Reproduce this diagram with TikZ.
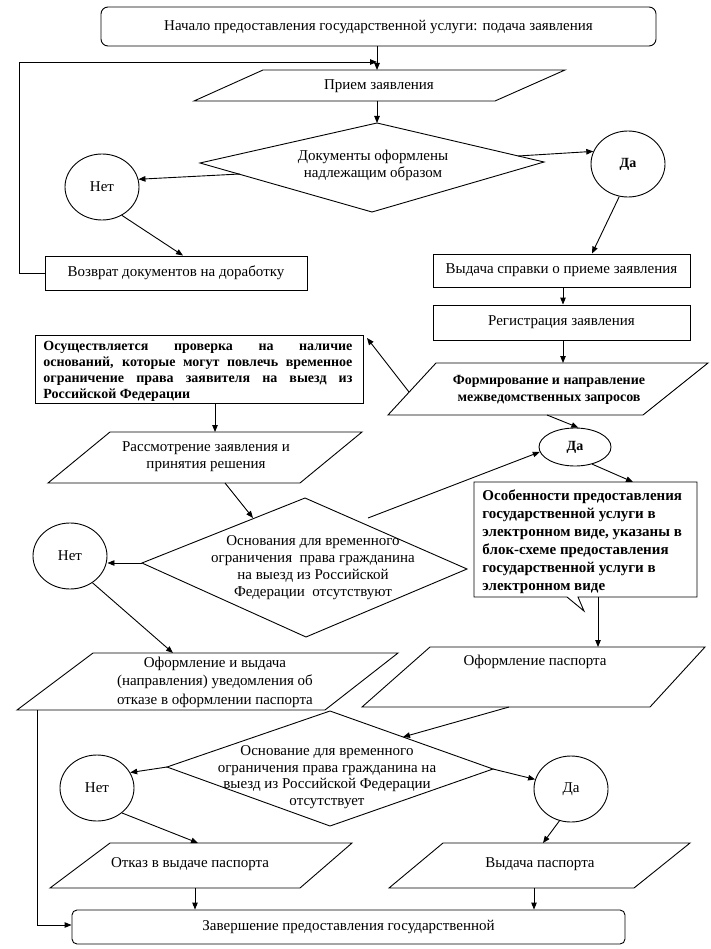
\documentclass[tikz,border=0pt]{standalone}
\usepackage{fontspec}
\setmainfont{Liberation Serif}
\usetikzlibrary{shapes.geometric,arrows.meta}
\begin{document}
\begin{tikzpicture}[x=1pt,y=-1pt,line width=0.9pt,
  arr/.style={-{Triangle[length=7pt,width=5.5pt]}},
  txt/.style={font=\fontsize{15}{17}\selectfont,align=center,inner sep=0pt},
  btxt/.style={font=\fontsize{14}{17}\selectfont\bfseries,align=center,inner sep=0pt},
  oval/.style={draw,ellipse,inner sep=0pt,minimum width=74pt,minimum height=66pt,font=\fontsize{15}{17}\selectfont},
  boxx/.style={draw,inner sep=0pt,font=\fontsize{15}{17}\selectfont,align=center}]
\useasboundingbox (0,0) rectangle (710,949);

% ---------- top ----------
\node[boxx,rounded corners=7pt,minimum width=555pt,minimum height=39pt] (start) at (378.5,26.5)
  {Начало предоставления государственной услуги: подача заявления};

\coordinate (pA) at (263,70); \coordinate (pB) at (565,70);
\coordinate (pC) at (495,101); \coordinate (pD) at (194,101);
\draw (pA) -- (pB) -- (pC) -- (pD) -- cycle;
\node[txt] (priem) at (379,86) {Прием заявления};
\coordinate (priemTop) at (377,70); \coordinate (priemBot) at (377,101);

\coordinate (fbTop) at (19,62); \coordinate (fbJoin) at (377,62);
\draw[arr] (start.south -| priemTop) -- (priemTop);

% diamond 1
\coordinate (d1t) at (377,123); \coordinate (d1r) at (544,162);
\coordinate (d1b) at (372,212); \coordinate (d1l) at (200,163);
\draw (d1t) -- (d1r) -- (d1b) -- (d1l) -- cycle;
\node[txt] (d1) at (373,165) {Документы оформлены\\надлежащим образом};
\draw[arr] (priemBot) -- (d1t);

\node[oval] (net1) at (102,187) {Нет};
\node[oval,font=\fontsize{14}{17}\selectfont\bfseries] (da1) at (628,164) {Да};
\coordinate (d1out1) at (240,174); \coordinate (d1out2) at (518,156);
\draw[arr] (d1out1) -- (net1.12);
\draw[arr] (d1out2) -- (da1.160);

\node[boxx,minimum width=262pt,minimum height=34pt] (vozv) at (176,273) {Возврат документов на доработку};
\draw[arr] (net1.-55) -- (vozv.north -| 183,0);
\draw[arr] (vozv.west) -| (fbTop) -- (fbJoin);

\node[boxx,minimum width=257pt,minimum height=33pt] (vyd) at (561.5,270.5) {Выдача справки о приеме заявления};
\draw[arr] (da1.-105) -- (vyd.north -| 592,0);
\node[boxx,minimum width=257pt,minimum height=35pt] (reg) at (561.5,322.5) {Регистрация заявления};
\draw[arr] (vyd.south -| 563,0) -- (reg.north -| 563,0);

% Формирование
\coordinate (fA) at (436,363); \coordinate (fB) at (708,363);
\coordinate (fC) at (643,415); \coordinate (fD) at (388,415);
\draw (fA) -- (fB) -- (fC) -- (fD) -- cycle;
\node[btxt] (form) at (549,390) {Формирование и направление\\межведомственных запросов};
\draw[arr] (reg.south -| 563,0) -- (563,363);

% Осуществляется
\node[draw,minimum width=328pt,minimum height=68pt,inner sep=0pt] (osu) at (199,369) {};
\node[anchor=north west,inner sep=0pt,font=\fontsize{14}{16}\selectfont\bfseries,align=left] (osut) at (43,341)
 {\makebox[309pt][s]{Осуществляется проверка на наличие}\\
  \makebox[309pt][s]{оснований, которые могут повлечь временное}\\
  \makebox[309pt][s]{ограничение права заявителя на выезд из}\\
  Российской Федерации};
\coordinate (fOut) at (409,392); \coordinate (osuIn) at (367,338);
\draw[arr] (fOut) -- (osuIn);

% Рассмотрение
\coordinate (rA) at (110,432); \coordinate (rB) at (362,432);
\coordinate (rC) at (300,483); \coordinate (rD) at (48,483);
\draw (rA) -- (rB) -- (rC) -- (rD) -- cycle;
\node[txt] (rass) at (206,457) {Рассмотрение заявления и\\принятия решения};
\draw[arr] (osu.south -| 215,0) -- (215,432);

% Да 2
\node[oval,minimum width=72pt,minimum height=38pt,font=\fontsize{14}{17}\selectfont\bfseries] (da2) at (575,447) {Да};
\coordinate (fOut2) at (547,415);
\draw[arr] (fOut2) -- (da2.80);

% Особенности (callout)
\draw (474,482) -- (697,482) -- (697,597) -- (578,597) -- (584,611) -- (567,597) -- (474,597) -- cycle;
\node[anchor=north west,inner sep=0pt,font=\fontsize{15}{18}\selectfont\bfseries,align=left] (osob) at (482,489)
 {Особенности предоставления\\государственной услуги в\\электронном виде, указаны в\\блок-схеме предоставления\\государственной услуги в\\электронном виде};
\coordinate (osobTop) at (633,482); \coordinate (osobBot) at (598,597);
\draw[arr] (da2.-45) -- (osobTop);

% diamond 2
\coordinate (d2t) at (305,498); \coordinate (d2r) at (467,569);
\coordinate (d2b) at (306,637); \coordinate (d2l) at (142,563);
\draw (d2t) -- (d2r) -- (d2b) -- (d2l) -- cycle;
\node[txt] (d2) at (313,568) {Основания для временного\\ограничения\ \ права гражданина\\на выезд из Российской\\Федерации\ \ отсутствуют};
\coordinate (rOut) at (225,483); \coordinate (d2in) at (253,518);
\draw[arr] (rOut) -- (d2in);
\coordinate (d2out) at (368,518);
\draw[arr] (d2out) -- (da2.188);

\node[oval] (net2) at (70,556) {Нет};
\draw[arr] (d2l) -- (net2.east |- d2l);

% Оформление и выдача
\coordinate (oA) at (93,653); \coordinate (oB) at (398,653);
\coordinate (oC) at (325,710); \coordinate (oD) at (17,710);
\draw (oA) -- (oB) -- (oC) -- (oD) -- cycle;
\node[txt,font=\fontsize{15}{18.5}\selectfont] (ofv) at (215,682) {Оформление и выдача\\(направления) уведомления об\\отказе в оформлении паспорта};
\draw[arr] (net2.-50) -- (173,653);

% Оформление паспорта
\coordinate (opA) at (430,647); \coordinate (opB) at (705,647);
\coordinate (opC) at (650,707); \coordinate (opD) at (362,707);
\draw (opA) -- (opB) -- (opC) -- (opD) -- cycle;
\node[txt] (ofp) at (535,662) {Оформление паспорта};
\draw[arr] (osobBot) -- (osobBot |- opA);

% diamond 3
\coordinate (d3t) at (330,711); \coordinate (d3r) at (493,769);
\coordinate (d3b) at (330,826); \coordinate (d3l) at (167,767);
\draw (d3t) -- (d3r) -- (d3b) -- (d3l) -- cycle;
\node[txt,font=\fontsize{15}{16.7}\selectfont] (d3) at (327,777) {Основание для временного\\ограничения права гражданина на\\выезд из Российской Федерации\\отсутствует};
\coordinate (opOut) at (509,707); \coordinate (d3in) at (403,737);
\draw[arr] (opOut) -- (d3in);

\node[oval] (net3) at (97,788) {Нет};
\node[oval] (da3) at (571,789) {Да};
\draw[arr] (d3l) -- (net3.25);
\draw[arr] (d3r) -- (da3.165);

% Отказ / Выдача паспорта
\coordinate (kA) at (110,843); \coordinate (kB) at (352,843);
\coordinate (kC) at (300,888); \coordinate (kD) at (50,888);
\draw (kA) -- (kB) -- (kC) -- (kD) -- cycle;
\node[txt] (otk) at (190,864) {Отказ в выдаче паспорта};
\coordinate (vA) at (443,843); \coordinate (vB) at (690,843);
\coordinate (vC) at (634,888); \coordinate (vD) at (389,888);
\draw (vA) -- (vB) -- (vC) -- (vD) -- cycle;
\node[txt] (vp) at (540,864) {Выдача паспорта};
\draw[arr] (net3.-45) -- (198,843);
\draw[arr] (da3.-110) -- (543,843);

% Завершение
\node[boxx,rounded corners=5pt,minimum width=553pt,minimum height=34pt] (end) at (348.5,927)
  {Завершение предоставления государственной};
\draw[arr] (195,888) -- (end.north -| 195,0);
\draw[arr] (534,888) -- (end.north -| 534,0);
\coordinate (leftCorner) at (37,925);
\draw[arr] (37,710) -- (leftCorner) -- (end.west |- leftCorner);
\end{tikzpicture}
\end{document}
